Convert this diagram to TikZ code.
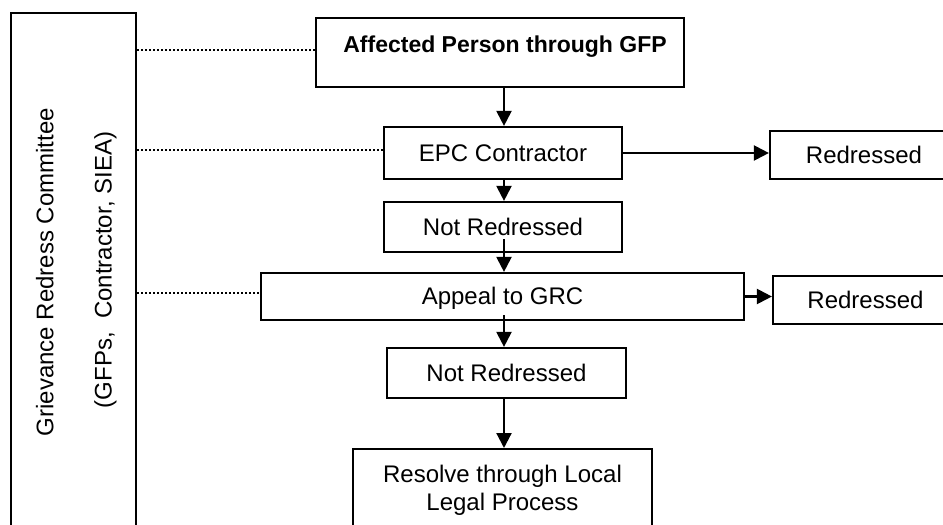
\documentclass[tikz,border=0pt]{standalone}
\usepackage{fontspec}
\setmainfont{Liberation Sans}
\usetikzlibrary{arrows.meta}
\begin{document}
\begin{tikzpicture}[x=1pt,y=-1pt,
  box/.style={draw,line width=2.2pt,inner sep=0pt,text height=16.5pt,text depth=0pt,
    font=\fontsize{24}{27.3}\selectfont},
  txt/.style={inner sep=0pt,font=\fontsize{24}{27.3}\selectfont},
  arr/.style={line width=2.2pt,-{Triangle[width=15pt,length=15pt]}},
  dotline/.style={line width=2.4pt,dash pattern=on 2pt off 2pt}]
\clip (0,0) rectangle (943,525);

% left committee box (open at the bottom)
\node[draw,line width=2.2pt,inner sep=0pt,minimum width=125pt,minimum height=540pt,anchor=north] (grc) at (73.5,12) {};
\node[txt,rotate=90,anchor=base] (grc1) at (53.3,272) {Grievance Redress Committee};
\node[txt,rotate=90,anchor=base] (grc2) at (111.5,270) {(GFPs,\ \ Contractor, SIEA)};

% flow boxes
\node[box,minimum width=368pt,minimum height=69pt,text depth=17.5pt,
  font=\fontsize{23}{27.6}\selectfont\bfseries] (top) at (500,52.5) {\hspace*{10pt}Affected Person through GFP};
\node[box,minimum width=238pt,minimum height=52pt] (epc) at (503,153) {EPC Contractor};
\node[box,minimum width=188pt,minimum height=48pt] (r1) at (864,155) {Redressed};
\node[box,minimum width=238pt,minimum height=50pt] (nr1) at (503,227) {Not Redressed};
\node[box,minimum width=483pt,minimum height=47pt] (appeal) at (502.5,296.5) {Appeal to GRC};
\node[box,minimum width=185pt,minimum height=48pt] (r2) at (865.5,300) {Redressed};
\node[box,minimum width=239pt,minimum height=50pt] (nr2) at (506.5,373) {Not Redressed};
\node[box,minimum width=299pt,anchor=north,align=center,inner ysep=17.2pt,text height=43.8pt,text depth=30pt] (resolve) at (502.5,448) {Resolve through Local\\Legal Process};

% arrows
\coordinate (col) at (504,0);
\coordinate (s3) at ([yshift=-12pt]nr1.center);
\coordinate (s4) at ([yshift=-18.5pt]appeal.center);
\draw[arr] (top.south -| col) -- (epc.north -| col);
\draw[arr] (epc.south -| col) -- (nr1.north -| col);
\draw[arr] (s3 -| col) -- (appeal.north -| col);
\draw[arr] (s4 -| col) -- (nr2.north -| col);
\draw[arr] (nr2.south -| col) -- (resolve.north -| col);
\draw[arr] (epc.east) -- (epc.east -| r1.west);
\draw[arr] (appeal.east) -- (appeal.east -| r2.west);

% dotted links to the committee
\coordinate (d1) at ([yshift=2.5pt]top.west);
\coordinate (d2) at ([yshift=3pt]epc.west);
\coordinate (d3) at ([yshift=3.5pt]appeal.west);
\draw[dotline] (d1 -| grc.east) -- (d1);
\draw[dotline] (d2 -| grc.east) -- (d2);
\draw[dotline] (d3 -| grc.east) -- (d3);
\end{tikzpicture}
\end{document}
